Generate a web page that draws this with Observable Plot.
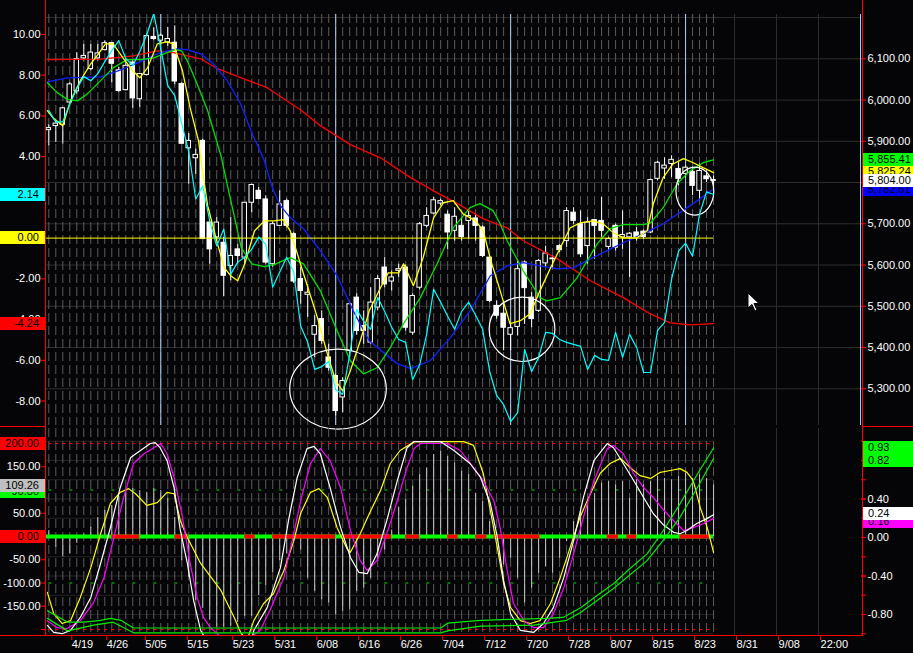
<!DOCTYPE html>
<html><head><meta charset="utf-8">
<script src="https://cdn.jsdelivr.net/npm/d3@7"></script>
<script src="https://cdn.jsdelivr.net/npm/@observablehq/plot@0.6"></script>
<style>
html,body{margin:0;padding:0;background:#050507;}
#chart{position:relative;width:913px;height:653px;overflow:hidden;background:#050507;font-family:'Liberation Sans',Arial,sans-serif;}
#chart svg{position:absolute;left:0;top:0;}
</style></head>
<body><div id="chart"></div>
<script>
// ---------------- DATA ----------------
const open  = [5927,5937,5940,5994,6021,6101,6075,6101,6121,6138,6072,6024,6091,6002,6061,6153,6144,6140,6139,6039,5883,5859,5901,5703,5667,5654,5598,5638,5618,5751,5780,5759,5602,5695,5755,5675,5566,5528,5431,5469,5376,5331,5279,5392,5521,5452,5412,5497,5594,5560,5586,5594,5436,5545,5695,5725,5749,5722,5683,5695,5707,5713,5691,5618,5501,5482,5431,5450,5606,5521,5489,5604,5614,5646,5658,5727,5699,5646,5709,5707,5644,5695,5667,5667,5679,5681,5679,5809,5834,5845,5833,5821,5826,5780,5815,5806];
const high  = [5940,5945,5982,6042,6115,6135,6135,6135,6143,6139,6079,6099,6095,6064,6160,6175,6160,6176,6180,6042,5919,5881,5905,5705,5715,5667,5715,5650,5751,5796,5788,5768,5705,5780,5760,5680,5594,5553,5477,5489,5408,5335,5327,5509,5530,5489,5545,5574,5618,5586,5602,5600,5530,5703,5739,5764,5760,5731,5739,5715,5731,5723,5695,5622,5513,5505,5456,5614,5610,5533,5614,5646,5622,5650,5739,5739,5731,5715,5711,5764,5667,5699,5731,5679,5691,5685,5808,5851,5860,5865,5848,5840,5838,5845,5828,5816];
const low   = [5889,5897,5893,5986,6014,6095,6071,6095,6119,6042,6018,6022,5980,5982,6058,6144,6139,6130,6037,5893,5796,5820,5663,5602,5659,5523,5562,5602,5602,5727,5759,5602,5595,5695,5690,5555,5505,5473,5376,5408,5343,5234,5242,5376,5430,5408,5408,5489,5545,5537,5570,5440,5430,5540,5690,5722,5743,5638,5658,5658,5663,5658,5618,5509,5469,5392,5392,5428,5456,5448,5485,5594,5590,5630,5642,5699,5618,5602,5614,5667,5634,5634,5638,5570,5658,5663,5676,5804,5808,5812,5792,5812,5768,5756,5800,5787];
const close = [5932,5943,5980,6038,6099,6107,6115,6113,6138,6088,6022,6083,6004,6063,6155,6148,6156,6148,6045,5894,5901,5867,5663,5638,5703,5574,5622,5622,5751,5794,5760,5606,5699,5747,5695,5560,5537,5533,5452,5416,5351,5246,5319,5505,5440,5440,5509,5566,5553,5570,5590,5448,5525,5699,5719,5757,5755,5679,5717,5668,5719,5695,5622,5513,5477,5448,5447,5590,5544,5469,5610,5628,5616,5636,5731,5707,5626,5703,5695,5683,5663,5642,5673,5676,5668,5668,5806,5848,5841,5855,5809,5836,5792,5828,5808,5804];

// moving averages (bar position, price)
const redBar = [-0.2,7.4,12.1,15.5,17.8,21.7,24.1,26.4,31.2,36,38.8,43.1,47.4,51.7,55.5,58.4,62.1,65.5,67.8,72.7,77.4,82.1,85.9,88.8,91.7,95];
const redVal = [6098,6099,6107,6119,6115,6100,6076,6061,6030,5976,5938,5892,5860,5812,5775,5749,5712,5690,5659,5615,5562,5521,5482,5460,5455,5458];
const blueBar = [-0.2,2.7,7.4,10.3,13.1,15.5,16.9,18.4,19.8,21.7,23.5,25.5,27.4,29.2,30.7,32,33.1,34.5,36.4,38.8,41.2,43.5,45.8,49.8,51.7,54.5,57.4,60.2,63.1,65.5,67.8,70.2,72.7,75,77.4,79.8,82.1,85,87.8,90.6,93.1,95];
const blueVal = [6044,6054,6056,6073,6093,6112,6119,6124,6122,6112,6088,6047,5991,5913,5858,5785,5744,5715,5688,5635,5574,5489,5416,5361,5349,5368,5424,5489,5574,5598,5606,5598,5591,5593,5615,5635,5654,5676,5700,5732,5761,5785];
const greenBar = [-0.2,1.2,2.7,4.1,5.5,7.4,9.2,11.2,13.1,15,16.9,18.1,19,19.8,21.2,22.7,24.6,26.1,27.5,29,30.8,32.2,34.5,36.4,38.8,41.2,43.1,45,46.9,48.8,50.7,53.1,55.5,57.8,60.2,61.6,63.5,64.5,65.5,67.8,70.2,71.2,73.1,75.5,78.4,80.2,82.1,85,86,87.8,89.8,91.7,93.5,95];
const greenVal = [6042,6018,6001,5998,6015,6047,6078,6098,6098,6102,6115,6122,6119,6095,6039,5974,5865,5749,5642,5603,5596,5601,5618,5603,5538,5441,5368,5336,5351,5400,5458,5521,5603,5690,5739,5749,5732,5700,5659,5586,5521,5513,5521,5569,5652,5688,5698,5698,5702,5739,5797,5829,5848,5855];
const yellowBar = [-0.2,0.7,2,3.1,4.5,6,7.1,8.1,9.2,10.7,12,13,14.1,15.5,16.9,17.8,19.1,20.2,21.4,22.1,22.7,24.1,25.1,26,27,28,29.4,30.8,32.2,33.5,34.5,36.4,38.4,39.8,41,42,43.1,44.5,45.8,47.4,48.5,50,50.7,52.1,53.5,55,56.4,57.8,59.2,61,62.1,63.1,64.5,65.9,67.4,68.8,70.2,71.7,73.1,74.5,75.9,77.8,79.2,80.7,82.1,84.1,85.5,86.4,87.8,89.2,90.7,92.1,93.5,95];
const yellowVal = [5974,5955,5938,5998,6047,6088,6112,6136,6136,6100,6071,6054,6078,6136,6141,6136,6071,5981,5901,5812,5744,5652,5593,5574,5562,5603,5683,5707,5707,5710,5683,5579,5472,5385,5319,5295,5344,5416,5489,5545,5581,5581,5603,5550,5618,5715,5751,5756,5724,5707,5683,5615,5538,5458,5465,5482,5538,5593,5642,5690,5702,5707,5700,5678,5666,5666,5683,5749,5812,5845,5858,5848,5836,5824];

// cyan oscillator (left scale of the upper panel), one value per bar
const cyan = [6.26,5.71,5.71,6.60,7.34,7.93,7.73,8.08,8.67,9.21,9.70,8.82,8.47,9.16,10.00,11.03,9.31,7.49,7.00,5.62,4.24,1.92,2.56,0.84,-0.39,0.44,-1.77,-1.18,-0.94,-0.54,0.05,-0.30,-2.41,-1.67,-0.94,-1.67,-4.33,-5.12,-6.45,-6.31,-6.06,-7.44,-7.68,-5.71,-3.50,-4.09,-4.48,-2.91,-3.60,-4.38,-4.98,-5.12,-6.95,-6.21,-4.73,-2.51,-3.15,-3.84,-4.48,-3.60,-3.15,-3.79,-4.48,-6.55,-7.73,-8.18,-9.01,-8.57,-5.47,-6.55,-5.86,-4.63,-4.68,-4.98,-5.12,-5.22,-5.32,-6.45,-5.76,-5.96,-6.01,-4.63,-5.86,-4.73,-5.37,-6.60,-6.60,-4.53,-4.14,-2.02,-0.64,-0.25,-0.89,1.18,2.27,2.14];

// lower panel histogram, one value per bar (left scale)
const hist = [13,-23,-44,-37,-15,5,20,41,56,67,86,99,103,99,95,103,99,82,41,-52,-88,-138,-155,-180,-195,-195,-193,-185,-172,-172,-127,-105,-77,-52,-37,-9,-29,-90,-118,-136,-143,-168,-161,-158,-118,-111,-90,-54,-29,14,62,79,108,133,147,176,184,172,158,140,133,93,75,32,0,-61,-47,-90,-143,-111,-79,-65,-79,-47,-11,32,57,72,92,115,118,111,118,82,122,111,118,129,125,122,129,136,125,133,125,111];

// lower panel oscillator lines (left scale)
const whiteBar = [-0.2,0.7,1.9,3.1,4.5,6,7.4,8.8,10.2,11.7,13.1,14.5,15.2,15.9,16.9,17.9,18.8,19.8,20.7,21.7,23,26,28.8,29.3,31.2,33.1,34.3,35.5,36.9,37.9,38.8,40.2,41.7,43.1,44.3,45.5,46.9,48.3,49.8,51.2,52.2,56,57.9,60.2,61.7,63.1,64.1,65,66,67.4,69.3,70.7,72.1,73.6,75,76.4,77.9,79.8,80.7,82.1,83.6,85,86.4,87.9,89.3,90.2,91.2,92.6,94.1,95];
const whiteVal = [-191,-206,-209,-202,-174,-131,-58,19,105,170,185,200,202,191,163,105,13,-58,-138,-202,-235,-245,-234,-202,-153,-67,38,127,189,194,178,105,19,-45,-77,-80,-37,34,120,191,204,204,185,157,127,71,-2,-95,-166,-202,-206,-187,-153,-88,-9,84,163,200,191,157,120,84,49,24,9,6,13,28,39,47];
const magentaBar = [-0.2,1.2,2.6,4.5,6.4,7.9,9.3,10.7,12.1,13.6,15,16,16.9,17.9,19.1,20.2,21.2,22.1,23.1,25,28,30.2,31.6,33.6,35,36,37.4,38.8,40.2,41.7,43.1,44.5,45.5,46.9,48.3,49.8,51.2,52.2,53.1,56.9,58.8,60.7,62.1,63.6,64.5,65.5,66.4,67.9,69.3,70.7,72.1,73.6,75,76.4,77.9,79.8,80.7,82.1,83.6,85,86.4,87.9,89.3,90.7,92.1,93.6,95];
const magentaVal = [-181,-196,-198,-181,-142,-88,-2,84,157,178,191,200,178,127,41,-58,-131,-174,-196,-222,-225,-202,-159,-88,6,77,157,189,163,105,13,-52,-73,-52,6,77,148,189,200,200,185,148,120,77,19,-73,-144,-181,-196,-196,-166,-110,-37,41,120,189,196,178,135,105,84,56,34,13,19,28,39];
const yellowOscBar = [-0.2,0.7,1.9,3.1,4.5,6,7.4,8.8,10.2,11.4,12.4,14,15.5,16.9,17.9,18.8,19.8,21.7,24.6,26.5,27.4,28.3,29.3,30.7,32.1,33.6,35,36,37.4,38.6,39.8,41.2,42.6,43.1,44.5,45.8,47.4,48.8,50.2,52.2,59.3,60.7,62.1,63.1,64.1,65,66,67.4,68.8,70.2,71.7,73.1,74.5,75.9,77.4,78.8,80.2,81.7,83.1,84.5,86,87.4,88.8,90.2,91.2,92.1,93.1,94.1,95];
const yellowOscVal = [-120,-166,-187,-181,-131,-67,6,71,95,103,92,67,73,95,92,34,-2,-58,-116,-174,-206,-224,-181,-144,-123,-73,-10,50,95,103,84,19,-26,-34,6,49,99,157,185,204,204,196,135,56,-24,-101,-153,-181,-187,-181,-144,-88,-24,41,92,136,157,168,148,131,125,138,142,146,138,120,62,19,-34];

// lower panel green lines (right scale)
const greenABar = [-0.2,2.7,5,7.4,8.8,10.3,12.1,56,57,61.7,71.2,73.5,76,78.8,80.7,83.1,85.5,87.8,90.2,92.7,95];
const greenAVal = [-0.76,-0.88,-0.88,-0.86,-0.84,-0.86,-0.94,-0.94,-0.89,-0.86,-0.84,-0.83,-0.73,-0.58,-0.48,-0.32,-0.17,0.07,0.35,0.66,0.93];
const greenBBar = [-0.2,2.7,6.4,9.2,12.1,56,57,61.7,69.3,74,76,78.8,80.7,85.5,87.8,90.2,92.7,95];
const greenBVal = [-0.84,-0.97,-0.91,-0.88,-0.99,-0.99,-0.97,-0.92,-0.91,-0.86,-0.78,-0.63,-0.53,-0.24,-0.03,0.21,0.52,0.82];

// zero line: spans (bar from, bar to) drawn red
const zeroRedFrom = [9,18,28,32,42,51,57,61,63.6,79.8,82.6,90.2];
const zeroRedTo   = [13,20,29.5,41,49,53,58.5,62.6,70.2,81.4,84,94.5];

// axes / ticks
const dateLabels = ["4/19","4/26","5/05","5/15","5/23","5/31","6/08","6/16","6/26","7/04","7/12","7/20","7/28","8/07","8/15","8/23","8/31","9/08","22:00"];
const dateBars   = [3,8,13.5,19.5,26,32,38,44,50,56,62,68,74,80,86,92,98,104,110];
const cycleBars  = [16,41,66,91,116];
const priceTicks = [5300,5400,5500,5600,5700,5800,5900,6000,6100];
const priceGrid  = [5300,5400,5500,5600,5700,5800,5900,6000,6100,6200];
const oscTicks   = [-8,-6,-4,-2,0,2,4,6,8,10];
const lowTicks   = [-150,-100,-50,0,50,100,150,200];
const lowRightMinor = [-1,-0.8,-0.6,-0.4,-0.2,0,0.2,0.4,0.6,0.8,1];
const lowRightMajor = [-0.8,-0.4,0,0.4,0.8];
// tick labels that sit fully under a value tag in the screenshot
const priceTicksCovered = [5800];
const oscTicksCovered = [0, 2];
const lowTicksCovered = [0, 100, 200];
const lowRightCovered = [0.8];

// value tags
const priceTagVal = [5825.24, 5782.61, 5855.41, 5804.00];
const oscTagVal   = [2.14, 0, -4.24];
const lowTagVal   = [200, 96.8, 109.26, 0];
const lowRightTagVal = [0.93, 0.82, 0.16, 0.24];

// annotation ellipses (center bar, center price, radius in bars, radius in price)
const ellBar = [41.4, 67.7, 92.4];
const ellPrice = [5298, 5443, 5778];
const ellBarR = [6.9, 4.7, 2.7];
const ellPriceR = [97, 78, 58];

// ---------------- DRAWING ----------------
const BG = "#050507";
const FONT = "'Liberation Sans', Arial, sans-serif";
const W = 913, H = 653;
const xDomain = [-0.33, 116];
const bars = open.map((o, i) => ({i, open: o, high: high[i], low: low[i], close: close[i]}));
const lastBar = bars[bars.length - 1].i;
const pts = (xs, ys) => xs.map((b, k) => ({i: b, v: ys[k]}));
const futureTicks = dateBars.filter(b => b > lastBar);
const fmt2 = d => d.toFixed(2);
const fmtPrice = d3.format(",.2f");
const hideIf = (list, f) => d => list.includes(d) ? "" : f(d);
const common = {
  width: W, height: H, marginLeft: 46, marginRight: 53,
  style: {background: "transparent", color: "#fff", fontFamily: FONT, fontSize: "11px", overflow: "visible"}
};
const TOP = {marginTop: 14, marginBottom: 228};
const BOT = {marginTop: 428, marginBottom: 18};

const ellipses = (index, scales) => {
  const g = d3.create("svg:g").attr("fill", "none").attr("stroke", "#fff").attr("stroke-width", 1.2);
  ellBar.forEach((b, k) => {
    const cx = scales.x(b), cy = scales.y(ellPrice[k]);
    g.append("ellipse").attr("cx", cx).attr("cy", cy)
      .attr("rx", Math.abs(scales.x(b + ellBarR[k]) - cx))
      .attr("ry", Math.abs(cy - scales.y(ellPrice[k] + ellPriceR[k])));
  });
  return g.node();
};

const pricePlot = Plot.plot({
  ...common, ...TOP,
  x: {domain: xDomain, axis: null},
  y: {domain: [5211, 6207.4]},
  marks: [
    Plot.ruleY(priceGrid, {stroke: "#2e2e2e"}),
    Plot.ruleX(bars, {x: "i", stroke: "#5c5c5c", strokeDasharray: "9,4"}),
    Plot.ruleX(futureTicks, {stroke: "#2e2e2e"}),
    Plot.ruleX(cycleBars, {stroke: "#a9cdf6"}),
    Plot.ruleX(bars, {x: "i", y1: "low", y2: "high", stroke: "#fff"}),
    Plot.rect(bars, {x1: d => d.i - 0.32, x2: d => d.i + 0.32, y1: "open", y2: "close",
      fill: d => d.close < d.open ? "#fff" : BG, stroke: "#fff"}),
    Plot.line(pts(redBar, redVal), {x: "i", y: "v", stroke: "#ff0000", strokeWidth: 1.3}),
    Plot.line(pts(blueBar, blueVal), {x: "i", y: "v", stroke: "#1020ff", strokeWidth: 1.3}),
    Plot.line(pts(greenBar, greenVal), {x: "i", y: "v", stroke: "#00e000", strokeWidth: 1.3}),
    Plot.line(pts(yellowBar, yellowVal), {x: "i", y: "v", stroke: "#ffff00", strokeWidth: 1.3}),
    ellipses,
    Plot.axisY(priceTicks, {anchor: "right", tickFormat: hideIf(priceTicksCovered, fmtPrice), stroke: "#ff0000", fill: "#fff", tickSize: 5, tickPadding: 2, label: null})
  ]
});

const oscPlot = Plot.plot({
  ...common, ...TOP,
  x: {domain: xDomain, axis: null},
  y: {domain: [-9.204, 10.982]},
  marks: [
    Plot.ruleY([0], {x1: xDomain[0], x2: lastBar, stroke: "#ffff00"}),
    Plot.line(cyan.map((v, i) => ({i, v})), {x: "i", y: "v", stroke: "#00ffff", strokeWidth: 1.2, clip: true}),
    Plot.axisY(oscTicks, {anchor: "left", tickFormat: hideIf(oscTicksCovered, fmt2), stroke: "#ff0000", fill: "#fff", tickSize: 5, tickPadding: 1, label: null})
  ]
});

const lowGridPlot = Plot.plot({
  ...common, ...BOT,
  x: {domain: xDomain, axis: null},
  y: {domain: [-1.018, 1.1325], axis: null},
  marks: [
    Plot.ruleY(lowRightMinor, {x1: xDomain[0], x2: lastBar, stroke: "#242424"})
  ]
});

const lowPlot = Plot.plot({
  ...common, ...BOT,
  x: {domain: xDomain},
  y: {domain: [-212.9, 232.3]},
  marks: [
    Plot.ruleX(bars, {x: "i", stroke: "#5c5c5c", strokeDasharray: "9,4"}),
    Plot.ruleX(futureTicks, {stroke: "#2e2e2e"}),
    Plot.ruleY([200, -200], {x1: bars[0].i, x2: lastBar, stroke: "#ff0000", strokeDasharray: "3,4"}),
    Plot.ruleY([100, -100], {x1: bars[0].i, x2: lastBar, stroke: "#00e000", strokeDasharray: "3,18"}),
    Plot.ruleX(hist.map((v, i) => ({i, v})), {x: "i", y1: 0, y2: "v", stroke: "#c8c8c8"}),
    Plot.ruleY([0], {x1: xDomain[0], x2: lastBar, stroke: "#00ff00", strokeWidth: 4}),
    Plot.ruleY(zeroRedFrom.map((f, k) => ({f, t: zeroRedTo[k]})), {y: 0, x1: "f", x2: "t", stroke: "#ff0000", strokeWidth: 4}),
    Plot.line(pts(yellowOscBar, yellowOscVal), {x: "i", y: "v", stroke: "#ffff00", strokeWidth: 1.2, clip: true}),
    Plot.line(pts(magentaBar, magentaVal), {x: "i", y: "v", stroke: "#ff00ff", strokeWidth: 1.2, clip: true}),
    Plot.line(pts(whiteBar, whiteVal), {x: "i", y: "v", stroke: "#ffffff", strokeWidth: 1.2, clip: true}),
    Plot.axisY(lowTicks, {anchor: "left", tickFormat: hideIf(lowTicksCovered, fmt2), stroke: "#ff0000", fill: "#fff", tickSize: 5, tickPadding: 1, label: null}),
    Plot.axisY([-200], {anchor: "left", tickFormat: () => "", stroke: "#ff0000", tickSize: 5, label: null}),
    Plot.axisX(dateBars, {anchor: "bottom", tickFormat: d => dateLabels[dateBars.indexOf(d)], stroke: "#ff0000", fill: "#fff",
      tickSize: 5, tickPadding: 0, textAnchor: "start", dx: 2, label: null})
  ]
});

const lowRightPlot = Plot.plot({
  ...common, ...BOT,
  x: {domain: xDomain, axis: null},
  y: {domain: [-1.018, 1.1325]},
  marks: [
    Plot.line(pts(greenABar, greenAVal), {x: "i", y: "v", stroke: "#00ee00", strokeWidth: 1.2, clip: true}),
    Plot.line(pts(greenBBar, greenBVal), {x: "i", y: "v", stroke: "#00ee00", strokeWidth: 1.2, clip: true}),
    Plot.axisY(lowRightMinor, {anchor: "right", tickFormat: () => "", stroke: "#ff0000", tickSize: 5, label: null}),
    Plot.axisY(lowRightMajor, {anchor: "right", tickFormat: hideIf(lowRightCovered, fmt2), stroke: "#ff0000", fill: "#fff", tickSize: 5, tickPadding: 2, label: null})
  ]
});

const chart = document.getElementById("chart");
[pricePlot, oscPlot, lowGridPlot, lowPlot, lowRightPlot].forEach(p => chart.appendChild(p));

// frame lines
function line(x, y, w, h) {
  const d = document.createElement("div");
  Object.assign(d.style, {position: "absolute", left: x + "px", top: y + "px", width: w + "px", height: h + "px", background: "#ff0000"});
  chart.appendChild(d);
}
line(45, 0, 1, 636); line(862, 0, 1, 636);
line(0, 426, 46, 1); line(862, 426, 51, 1);
line(0, 635, 863, 1);

// value tags
const TAG_H = 13;
function tag(side, y, text, bg) {
  const d = document.createElement("div");
  d.textContent = text;
  Object.assign(d.style, {position: "absolute", top: (y - TAG_H / 2) + "px", height: TAG_H + "px", lineHeight: TAG_H + "px",
    background: bg, color: "#000", fontSize: "11px", whiteSpace: "nowrap", overflow: "hidden"});
  if (side === "left") Object.assign(d.style, {left: "0px", width: "39px", paddingRight: "6px", textAlign: "right"});
  else Object.assign(d.style, {left: "863px", width: "45px", paddingLeft: "5px", textAlign: "left"});
  chart.appendChild(d);
}
const sp = pricePlot.scale("y"), so = oscPlot.scale("y"), sl = lowPlot.scale("y"), sr = lowRightPlot.scale("y");
const priceTagColor = ["#ffff00", "#0000ff", "#00ff00", "#ffffff"];
priceTagVal.forEach((v, k) => tag("right", sp.apply(v), fmtPrice(v), priceTagColor[k]));
const oscTagColor = ["#00ffff", "#ffff00", "#ff0000"];
oscTagVal.forEach((v, k) => tag("left", so.apply(v), fmt2(v), oscTagColor[k]));
const lowTagColor = ["#ff0000", "#00ff00", "#c0c0c0", "#ff0000"];
lowTagVal.forEach((v, k) => tag("left", sl.apply(v), fmt2(v), lowTagColor[k]));
const lowRightTagColor = ["#00ff00", "#00ff00", "#ff00ff", "#ffffff"];
// the two green tags are stacked so they do not cover each other
const yA = sr.apply(lowRightTagVal[0]);
const yB = Math.max(sr.apply(lowRightTagVal[1]), yA + TAG_H);
tag("right", yA, fmt2(lowRightTagVal[0]), lowRightTagColor[0]);
tag("right", yB, fmt2(lowRightTagVal[1]), lowRightTagColor[1]);
tag("right", sr.apply(lowRightTagVal[2]), fmt2(lowRightTagVal[2]), lowRightTagColor[2]);
tag("right", sr.apply(lowRightTagVal[3]), fmt2(lowRightTagVal[3]), lowRightTagColor[3]);

// mouse pointer seen in the screenshot
const cur = document.createElementNS("http://www.w3.org/2000/svg", "svg");
cur.setAttribute("width", "14"); cur.setAttribute("height", "22");
cur.style.left = "747px"; cur.style.top = "292px";
cur.innerHTML = '<path d="M1,1 L1,16 L5,12.5 L8,19 L10,18 L7,11.5 L12,11.5 Z" fill="#fff" stroke="#000" stroke-width="1"/>';
chart.appendChild(cur);
</script>
</body></html>
